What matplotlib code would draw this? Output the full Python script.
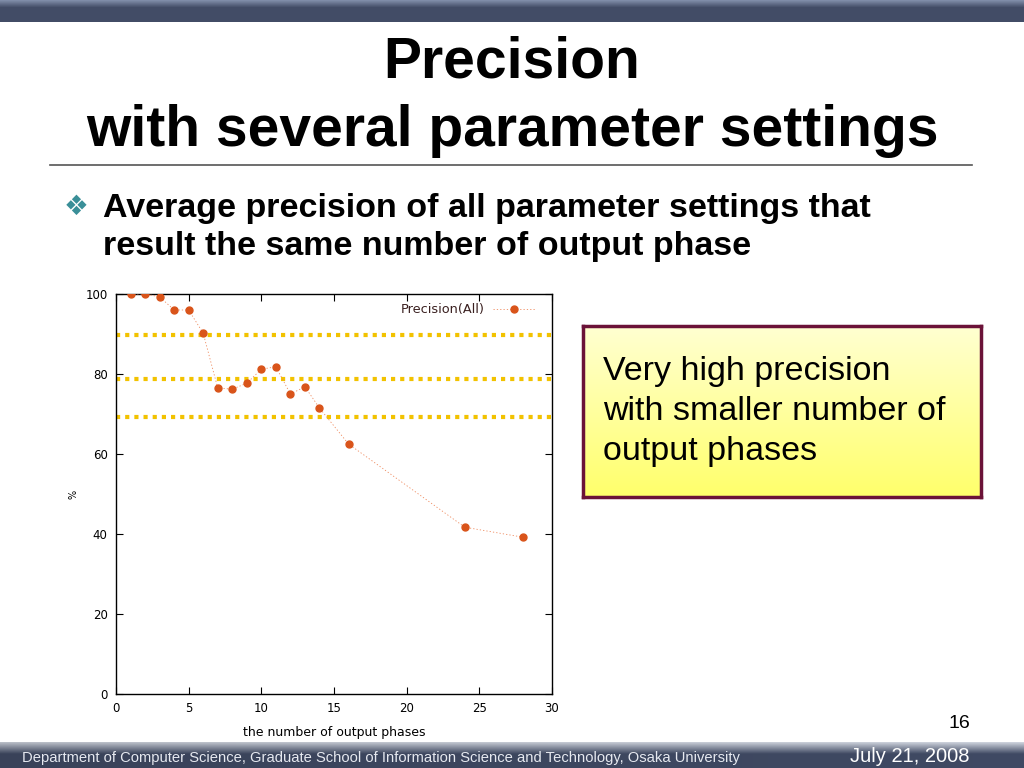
import numpy as np
import matplotlib
matplotlib.use("Agg")
import matplotlib.pyplot as plt

# data
phases = [1, 2, 3, 4, 5, 6, 7, 8, 9, 10, 11, 12, 13, 14, 16, 24, 28]
precision = [100, 100, 99.3, 96, 96, 90.2, 76.5, 76.2, 77.7, 81.2, 81.8,
             75, 76.8, 71.5, 62.5, 41.7, 39.2]
guide_levels = [89.7, 78.8, 69.3]   # yellow dotted lines drawn on the slide
xticks = [0, 5, 10, 15, 20, 25, 30]
yticks = [0, 20, 40, 60, 80, 100]

W, H = 1024, 768
fig = plt.figure(figsize=(W / 100, H / 100), dpi=100)
fig.patch.set_facecolor("white")

# background layer in pixel coordinates
bg = fig.add_axes([0, 0, 1, 1])
bg.set_xlim(0, W)
bg.set_ylim(H, 0)
bg.axis("off")

# header bar
hdr = np.linspace(0, 1, 22)[:, None]
top_c = np.array([0.50, 0.55, 0.66])
mid_c = np.array([0.26, 0.30, 0.40])
img = top_c + (mid_c - top_c) * np.clip(hdr * 3, 0, 1)[..., None]
bg.imshow(np.repeat(img, 2, axis=1), extent=[0, W, 22, 0], aspect="auto")

# footer bar
ft = np.linspace(0, 1, 26)[:, None]
light = np.array([0.80, 0.82, 0.86])
dark = np.array([0.25, 0.29, 0.39])
img2 = light + (dark - light) * np.clip(ft * 2.2, 0, 1)[..., None]
xs = np.linspace(0, 1, 200)[None, :]
img2 = img2 * (0.9 + 0.1 * xs[..., None])
bg.imshow(np.clip(img2, 0, 1), extent=[0, W, H, 742], aspect="auto")

bg.text(512, 63, "Precision", ha="center", va="center", fontsize=41,
        fontweight="bold", family="Liberation Sans", color="black")
bg.text(512, 131, "with several parameter settings", ha="center", va="center",
        fontsize=41, fontweight="bold", family="Liberation Sans", color="black")
bg.plot([50, 972], [165, 165], color="#555555", lw=1.2)

bg.text(76, 207, "\u2756", ha="center", va="center", fontsize=20,
        color="#3a8f98", family="DejaVu Sans")
bg.text(103, 208, "Average precision of all parameter settings that",
        ha="left", va="center", fontsize=24.5, fontweight="bold",
        family="Liberation Sans")
bg.text(103, 247, "result the same number of output phase",
        ha="left", va="center", fontsize=24.5, fontweight="bold",
        family="Liberation Sans")

bg.text(970, 724, "16", ha="right", va="center", fontsize=14,
        family="Liberation Sans")
bg.text(22, 758, "Department of Computer Science, Graduate School of Information "
        "Science and Technology, Osaka University", ha="left", va="center",
        fontsize=10.6, color="#e6e9f0", family="Liberation Sans")
bg.text(970, 757, "July 21, 2008", ha="right", va="center", fontsize=14.5,
        color="white", family="Liberation Sans")

# callout box
box = fig.add_axes([583 / W, 1 - 497 / H, 398 / W, 171 / H])
grad = np.linspace(0, 1, 100)[:, None]
c1 = np.array([1.0, 1.0, 0.82])
c2 = np.array([1.0, 1.0, 0.42])
box.imshow((c1 + (c2 - c1) * grad[..., None]) * np.ones((1, 2, 1)),
           extent=[0, 1, 0, 1], aspect="auto")
box.set_xticks([])
box.set_yticks([])
for s in box.spines.values():
    s.set_color("#6b1238")
    s.set_linewidth(2.5)
box.text(0.05, 0.5, "Very high precision\nwith smaller number of\noutput phases",
         transform=box.transAxes, ha="left", va="center", fontsize=24.5,
         linespacing=1.38, family="Liberation Sans")

# the chart
ax = fig.add_axes([116 / W, 1 - 694 / H, 436 / W, 400 / H])
ax.set_facecolor("white")
for lv in guide_levels:
    ax.axhline(lv, color="#f2c200", lw=3, linestyle=(0, (1, 1.2)), zorder=1)
ax.plot(phases, precision, linestyle=(0, (1.5, 2.5)), lw=0.6, color="#ef8a5e",
        marker="o", markersize=5, markerfacecolor="#d9541a",
        markeredgecolor="#d9541a", label="Precision(All)", zorder=3)
ax.set_xlim(0, 30)
ax.set_ylim(0, 100)
ax.set_xticks(xticks)
ax.set_yticks(yticks)
ax.tick_params(direction="in", top=True, right=True, length=5, width=0.8,
               labelsize=8.5, pad=6)
for s in ax.spines.values():
    s.set_linewidth(1.0)
ax.set_xlabel("the number of output phases", fontsize=9, labelpad=8)
ax.set_ylabel("%", fontsize=7, labelpad=5)
leg = ax.legend(loc="upper right", frameon=False, markerfirst=False,
                fontsize=9.3, handlelength=3.4, handletextpad=0.6,
                borderaxespad=0.3, bbox_to_anchor=(0.985, 1.0))
for t in leg.get_texts():
    t.set_color("#3a2020")

fig.savefig("out.png", dpi=100)
